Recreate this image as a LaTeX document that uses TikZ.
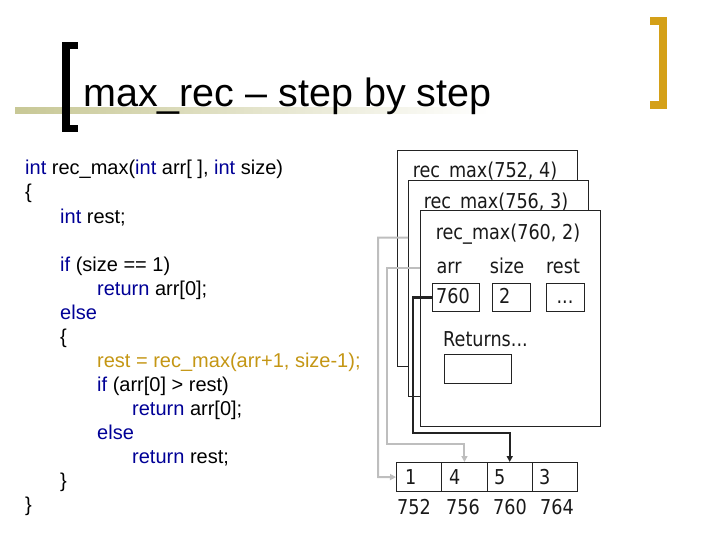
\documentclass[tikz,border=0pt]{standalone}
\usepackage{fontspec}
\setmainfont{Liberation Sans}
\newfontfamily\tah[FakeStretch=0.86]{DejaVu Sans}
\usetikzlibrary{arrows.meta}
\definecolor{kwblue}{RGB}{0,0,150}
\definecolor{codegold}{RGB}{196,150,20}
\definecolor{brgold}{RGB}{212,160,24}
\definecolor{bandolive}{RGB}{200,200,150}
\definecolor{connGray}{RGB}{190,190,190}
\definecolor{frameC}{RGB}{35,35,35}
\newcommand\kw[1]{\textcolor{kwblue}{#1}}
\begin{document}
\begin{tikzpicture}[x=1pt,y=-1pt,
  code/.style={anchor=base west,inner sep=0pt,font=\fontsize{20}{24}\selectfont},
  ftext/.style={inner sep=0pt,font=\tah\fontsize{20.5}{24}\selectfont,text=black!90},
  frame/.style={draw=frameC,line width=1.3pt,fill=white,anchor=north west,inner sep=0pt,minimum width=180pt,minimum height=216pt},
  vbox/.style={draw=frameC,line width=1.2pt,fill=white,anchor=north west,inner sep=0pt,minimum height=28pt},
  cell/.style={draw=frameC,line width=1.2pt,anchor=north west,inner sep=0pt,minimum width=45.25pt,minimum height=29pt},
  grayconn/.style={draw=connGray,line width=2pt,-{Triangle[length=6pt,width=6pt]}},
  darkconn/.style={draw=frameC,line width=2.4pt,-{Triangle[length=6pt,width=6pt]}}]
\useasboundingbox (0,0) rectangle (720,540);
% title decorations
\shade[left color=bandolive,right color=white] (15,108) rectangle (490,114);
\fill (62,42) rectangle (70,132);
\fill (62,42) rectangle (78,49);
\fill (62,125) rectangle (78,132);
\fill[brgold] (659,17) rectangle (667,109);
\fill[brgold] (650,17) rectangle (667,25);
\fill[brgold] (650,101) rectangle (667,109);
\node[anchor=base west,inner sep=0pt,font=\fontsize{39.5}{44}\selectfont] (title) at (83,107) {max\_rec – step by step};
% code
\node[code] (l1) at (25,175) {\kw{int} rec\_max(\kw{int} arr[ ], \kw{int} size)};
\node[code] (l2) at (25,199) {\{};
\node[code] (l3) at (60,223) {\kw{int} rest;};
\node[code] (l5) at (60,271) {\kw{if} (size == 1)};
\node[code] (l6) at (97,295) {\kw{return} arr[0];};
\node[code] (l7) at (60,319) {\kw{else}};
\node[code] (l8) at (60,343) {\{};
\node[code,text=codegold] (l9) at (97,367) {rest = rec\_max(arr+1, size-1);};
\node[code] (l10) at (97,391) {\kw{if} (arr[0] > rest)};
\node[code] (l11) at (132,415) {\kw{return} arr[0];};
\node[code] (l12) at (97,439) {\kw{else}};
\node[code] (l13) at (132,463) {\kw{return} rest;};
\node[code] (l14) at (60,487) {\}};
\node[code] (l15) at (25,511) {\}};
% frame 1
\node[frame] (f1) at (397,150) {};
\node[ftext,anchor=base] (t1) at (485,178) {rec\_max(752, 4)};
\node[vbox,minimum width=47pt] (b1) at (408,223) {};
% frame 2
\node[frame] (f2) at (408,180) {};
\node[ftext,anchor=base] (t2) at (496,208) {rec\_max(756, 3)};
\node[vbox,minimum width=47pt] (b2) at (420,253) {};
% frame 3
\node[frame] (f3) at (420,210) {};
\node[ftext,anchor=base] (t3) at (508,240) {rec\_max(760, 2)};
\node[ftext,anchor=base] (arrL) at (449,273) {arr};
\node[ftext,anchor=base] (sizeL) at (507,273) {size};
\node[ftext,anchor=base] (restL) at (563,273) {rest};
\node[vbox,minimum width=47pt] (b3) at (432,283) {};
\node[vbox,minimum width=38pt] (bs) at (492,283) {};
\node[vbox,minimum width=38pt] (br) at (546,283) {};
\node[ftext,anchor=base west] (v3) at (436,303) {760};
\node[ftext,anchor=base west] (vs) at (499,303) {2};
\node[ftext,anchor=base] (vr) at (565,303) {...};
\node[ftext,anchor=base west] (ret) at (443,346) {Returns...};
\node[vbox,minimum width=67pt,minimum height=29pt] (rb) at (444,354) {};
% array
\node[cell] (c1) at (396,462) {};
\node[cell] (c2) at (441.25,462) {};
\node[cell] (c3) at (486.5,462) {};
\node[cell] (c4) at (531.75,462) {};
\node[ftext,anchor=base west] (n1) at (405,484) {1};
\node[ftext,anchor=base west] (n2) at (449,484) {4};
\node[ftext,anchor=base west] (n3) at (494,484) {5};
\node[ftext,anchor=base west] (n4) at (539,484) {3};
\node[ftext,anchor=base west] (a1) at (397,514) {752};
\node[ftext,anchor=base west] (a2) at (446,514) {756};
\node[ftext,anchor=base west] (a3) at (493,514) {760};
\node[ftext,anchor=base west] (a4) at (540,514) {764};
% connectors
\coordinate (g1) at (378,477);
\coordinate (g2) at (387,444);
\coordinate (k3) at (413,433);
\draw[grayconn] (b1.west) -| (g1) -- (c1.west);
\draw[grayconn] (b2.west) -| (g2) -| (c2.north);
\draw[darkconn] (b3.west) -| (k3) -| (c3.north);
\end{tikzpicture}
\end{document}
